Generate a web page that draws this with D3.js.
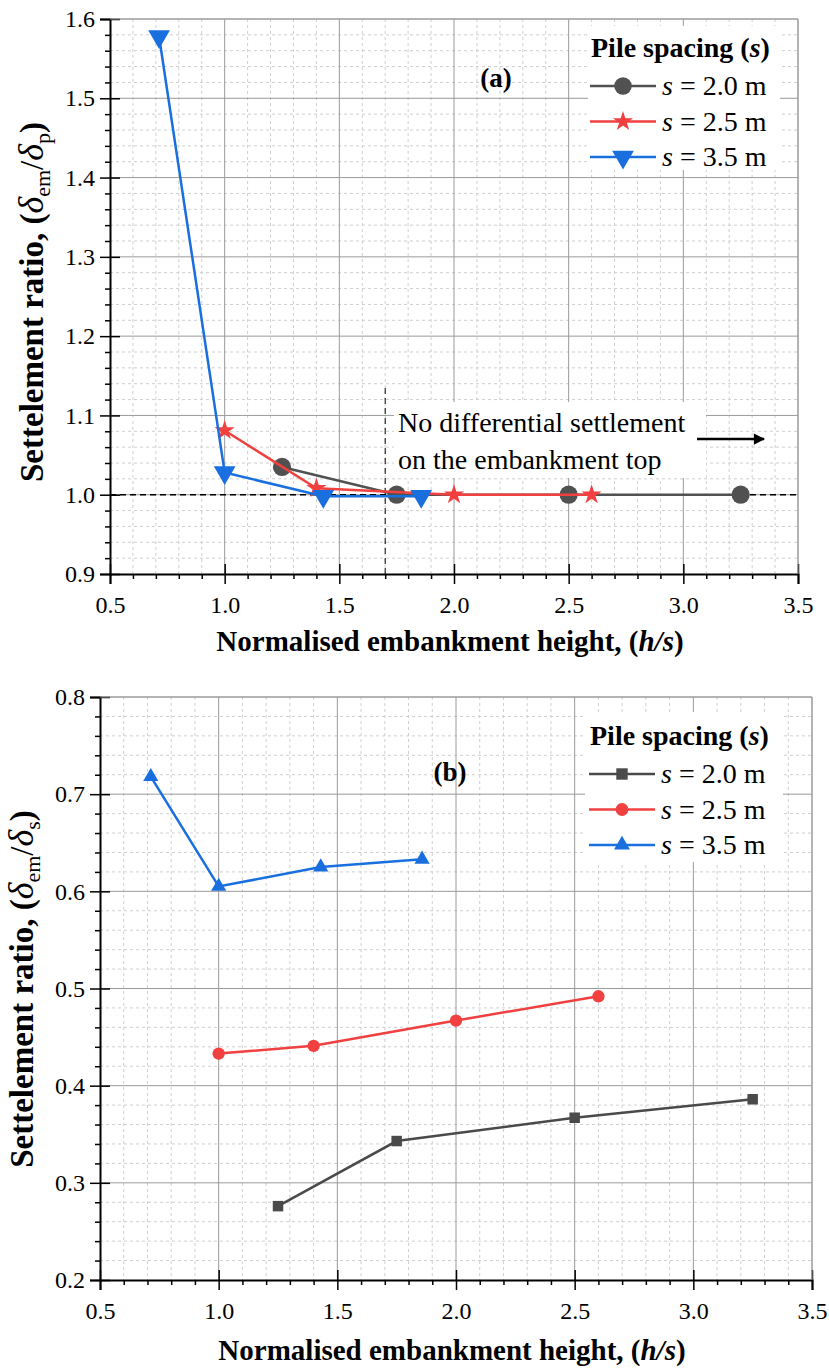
<!DOCTYPE html>
<html>
<head>
<meta charset="utf-8">
<script src="https://cdn.jsdelivr.net/npm/d3@7"></script>
<style>
  body { margin: 0; background: #fff; }
  svg { display: block; }
  svg text { font-family: "Liberation Serif", "Times New Roman", serif; }
</style>
</head>
<body>
<svg id="chart" width="829" height="1369"></svg>
<script>
// ---- data ----
var xS20 = [1.25, 1.75, 2.5, 3.25];
var xS25 = [1.0, 1.4, 2.0, 2.6];
var xS35 = [0.714, 1.0, 1.43, 1.857];

// (a) settlement ratio em/pile
var pileS20 = [1.035, 1.0, 1.0, 1.0];
var pileS25 = [1.081, 1.008, 1.0, 1.0];
var pileS35 = [1.578, 1.028, 0.998, 0.998];

// (b) settlement ratio em/soil
var soilS20 = [0.276, 0.343, 0.367, 0.386];
var soilS25 = [0.433, 0.441, 0.467, 0.492];
var soilS35 = [0.718, 0.605, 0.625, 0.633];

var spacings = ["2.0", "2.5", "3.5"];
var xTicks = [0.5, 1.0, 1.5, 2.0, 2.5, 3.0, 3.5];
var yTicksA = [0.9, 1.0, 1.1, 1.2, 1.3, 1.4, 1.5, 1.6];
var yTicksB = [0.2, 0.3, 0.4, 0.5, 0.6, 0.7, 0.8];

var colGray = "#515151", colRed = "#f14040", colBlue = "#1a6fdf";
var serif = "'Liberation Serif', 'Times New Roman', serif";

var svg = d3.select("#chart");

function range(a, b, step) {
  var out = [];
  var n = Math.round((b - a) / step);
  for (var i = 0; i <= n; i++) out.push(+(a + i * step).toFixed(4));
  return out;
}

function drawPanel(p) {
  var x = p.x, y = p.y;
  var L = x.range()[0], R = x.range()[1], B = y.range()[0], T = y.range()[1];
  var g = svg.append("g").attr("font-family", serif);

  // minor grid (dashed)
  var xMinor = range(0.5, 3.5, 0.1).filter(function(v){ return xTicks.indexOf(v) < 0; });
  var yMinor = range(y.domain()[0], y.domain()[1], 0.02).filter(function(v){
    return Math.abs(Math.round(v * 10) / 10 - v) > 1e-6;
  });
  g.selectAll(".gxm").data(xMinor).enter().append("line")
    .attr("x1", x).attr("x2", x).attr("y1", T).attr("y2", B)
    .attr("stroke", "#cfcfcf").attr("stroke-width", 1).attr("stroke-dasharray", "3,3");
  g.selectAll(".gym").data(yMinor).enter().append("line")
    .attr("y1", y).attr("y2", y).attr("x1", L).attr("x2", R)
    .attr("stroke", "#cfcfcf").attr("stroke-width", 1).attr("stroke-dasharray", "3,3");

  // major grid
  g.selectAll(".gx").data(xTicks.slice(1)).enter().append("line")
    .attr("x1", x).attr("x2", x).attr("y1", T).attr("y2", B)
    .attr("stroke", "#9a9a9a").attr("stroke-width", 1);
  g.selectAll(".gy").data(p.yTicks.slice(1)).enter().append("line")
    .attr("y1", y).attr("y2", y).attr("x1", L).attr("x2", R)
    .attr("stroke", "#9a9a9a").attr("stroke-width", 1);

  // axes - minor ticks
  g.append("g").attr("transform", "translate(0," + B + ")")
    .call(d3.axisBottom(x).tickValues(xMinor).tickSize(5).tickFormat(""))
    .call(function(s){ s.select(".domain").remove(); s.selectAll("line").attr("stroke-width", 1.5); });
  g.append("g").attr("transform", "translate(" + L + ",0)")
    .call(d3.axisLeft(y).tickValues(yMinor).tickSize(5).tickFormat(""))
    .call(function(s){ s.select(".domain").remove(); s.selectAll("line").attr("stroke-width", 1.5); });

  // axes - major ticks (crossing the axis)
  var xa = g.append("g").attr("transform", "translate(0," + B + ")")
    .call(d3.axisBottom(x).tickValues(xTicks).tickSize(10).tickPadding(12).tickFormat(d3.format(".1f")))
    .attr("font-family", serif).attr("font-size", 24);
  xa.select(".domain").attr("stroke-width", 2);
  xa.selectAll(".tick line").attr("y1", -10).attr("stroke-width", 1.5);
  xa.selectAll("text").attr("fill", "#000");

  var ya = g.append("g").attr("transform", "translate(" + L + ",0)")
    .call(d3.axisLeft(y).tickValues(p.yTicks).tickSize(10).tickPadding(5).tickFormat(d3.format(".1f")))
    .attr("font-family", serif).attr("font-size", 24);
  ya.select(".domain").attr("stroke-width", 2);
  ya.selectAll(".tick line").attr("x1", 10).attr("stroke-width", 1.5);
  ya.selectAll("text").attr("fill", "#000");

  // top / right frame
  g.append("line").attr("x1", L).attr("x2", R).attr("y1", T).attr("y2", T).attr("stroke", "#9a9a9a");
  g.append("line").attr("x1", R).attr("x2", R).attr("y1", T).attr("y2", B).attr("stroke", "#9a9a9a");

  // axis titles
  var xt = g.append("text").attr("x", (L + R) / 2 - 4).attr("y", B + p.xTitleDy)
    .attr("text-anchor", "middle").attr("font-size", 29).attr("font-weight", "bold");
  xt.append("tspan").text("Normalised embankment height, (");
  xt.append("tspan").attr("font-style", "italic").text("h/s");
  xt.append("tspan").text(")");

  var yt = g.append("text")
    .attr("transform", "translate(" + p.yTitleX + "," + p.yTitleY + ") rotate(-90)")
    .attr("text-anchor", "middle").attr("font-size", 33).attr("font-weight", "bold");
  yt.append("tspan").text("Settelement ratio, (");
  yt.append("tspan").attr("font-style", "italic").attr("font-weight", "normal").attr("font-size", 36).text("δ");
  yt.append("tspan").attr("font-weight", "normal").attr("font-size", 22).attr("dy", 7).text("em");
  yt.append("tspan").attr("font-weight", "normal").attr("dy", -7).text("/");
  yt.append("tspan").attr("font-style", "italic").attr("font-weight", "normal").attr("font-size", 36).text("δ");
  yt.append("tspan").attr("font-weight", "normal").attr("font-size", 22).attr("dy", 7).text(p.subscript);
  yt.append("tspan").attr("dy", -7).text(")");

  return g;
}

function drawSeries(g, x, y, xs, ys, color, symbol, size, rotate, lw) {
  var pts = xs.map(function(v, i){ return [v, ys[i]]; });
  g.append("path").datum(pts)
    .attr("fill", "none").attr("stroke", color).attr("stroke-width", lw)
    .attr("d", d3.line().x(function(d){ return x(d[0]); }).y(function(d){ return y(d[1]); }));
  g.selectAll(null).data(pts).enter().append("path")
    .attr("d", d3.symbol().type(symbol).size(size))
    .attr("transform", function(d){ return "translate(" + x(d[0]) + "," + y(d[1]) + ") rotate(" + rotate + ")"; })
    .attr("fill", color);
}

function drawLegend(g, lx, ly, box, items) {
  g.append("rect").attr("x", box[0]).attr("y", box[1]).attr("width", box[2]).attr("height", box[3]).attr("fill", "#fff");
  var t = g.append("text").attr("x", lx + 1).attr("y", ly).attr("font-size", 28).attr("font-weight", "bold");
  t.append("tspan").text("Pile spacing (");
  t.append("tspan").attr("font-style", "italic").text("s");
  t.append("tspan").text(")");
  items.forEach(function(it, i) {
    var cy = ly + 29 + i * 35.5;
    g.append("line").attr("x1", lx).attr("x2", lx + 66).attr("y1", cy).attr("y2", cy)
      .attr("stroke", it.color).attr("stroke-width", 2.5);
    g.append("path").attr("d", d3.symbol().type(it.symbol).size(it.size))
      .attr("transform", "translate(" + (lx + 33) + "," + cy + ") rotate(" + it.rotate + ")")
      .attr("fill", it.color);
    var tx = g.append("text").attr("x", lx + 72).attr("y", cy + 9).attr("font-size", 28);
    tx.append("tspan").attr("font-style", "italic").text("s");
    tx.append("tspan").text(" = " + spacings[i] + " m");
  });
}

// ---------- panel (a) ----------
var xA = d3.scaleLinear().domain([0.5, 3.5]).range([110, 798]);
var yA = d3.scaleLinear().domain([0.9, 1.6]).range([574, 19]);
var gA = drawPanel({ x: xA, y: yA, yTicks: yTicksA, xTitleDy: 77, yTitleX: 43, yTitleY: 302, subscript: "p" });

// reference lines
gA.append("line").attr("x1", xA(0.5)).attr("x2", xA(3.5)).attr("y1", yA(1.0)).attr("y2", yA(1.0))
  .attr("stroke", "#000").attr("stroke-width", 1.5).attr("stroke-dasharray", "6,4");
gA.append("line").attr("x1", xA(1.7)).attr("x2", xA(1.7)).attr("y1", 388).attr("y2", yA(0.9))
  .attr("stroke", "#000").attr("stroke-width", 1).attr("stroke-dasharray", "6,4");

// annotation
gA.append("rect").attr("x", 394).attr("y", 402).attr("width", 312).attr("height", 76).attr("fill", "#fff");
gA.append("text").attr("x", 398).attr("y", 432).attr("font-size", 28).text("No differential settlement");
gA.append("text").attr("x", 398).attr("y", 469).attr("font-size", 28).text("on the embankment top");
gA.append("defs").append("marker").attr("id", "arrowhead")
  .attr("viewBox", "0 0 10 10").attr("refX", 9).attr("refY", 5)
  .attr("markerWidth", 5.5).attr("markerHeight", 4.5).attr("orient", "auto")
  .append("path").attr("d", "M0,0 L10,5 L0,10 Z").attr("fill", "#000");
gA.append("line").attr("x1", 697).attr("x2", 764).attr("y1", 439).attr("y2", 439)
  .attr("stroke", "#000").attr("stroke-width", 2.5).attr("marker-end", "url(#arrowhead)");

gA.append("text").attr("x", 496).attr("y", 87).attr("text-anchor", "middle")
  .attr("font-size", 27).attr("font-weight", "bold").text("(a)");

drawSeries(gA, xA, yA, xS20, pileS20, colGray, d3.symbolCircle, 260, 0, 2.5);
drawSeries(gA, xA, yA, xS25, pileS25, colRed, d3.symbolStar, 125, 0, 2.5);
drawSeries(gA, xA, yA, xS35, pileS35, colBlue, d3.symbolTriangle, 205, 180, 2.5);

drawLegend(gA, 590, 57, [588, 26, 192, 144], [
  { color: colGray, symbol: d3.symbolCircle, size: 240, rotate: 0 },
  { color: colRed, symbol: d3.symbolStar, size: 125, rotate: 0 },
  { color: colBlue, symbol: d3.symbolTriangle, size: 205, rotate: 180 }
]);

// ---------- panel (b) ----------
var xB = d3.scaleLinear().domain([0.5, 3.5]).range([100, 812]);
var yB = d3.scaleLinear().domain([0.2, 0.8]).range([1280, 697]);
var gB = drawPanel({ x: xB, y: yB, yTicks: yTicksB, xTitleDy: 80, yTitleX: 33, yTitleY: 989, subscript: "s" });

gB.append("text").attr("x", 450).attr("y", 781).attr("text-anchor", "middle")
  .attr("font-size", 27).attr("font-weight", "bold").text("(b)");

drawSeries(gB, xB, yB, xS20, soilS20, "#4a4a4a", d3.symbolSquare, 110, 0, 2.5);
drawSeries(gB, xB, yB, xS25, soilS25, colRed, d3.symbolCircle, 120, 0, 2.5);
drawSeries(gB, xB, yB, xS35, soilS35, colBlue, d3.symbolTriangle, 100, 0, 2.5);

drawLegend(gB, 589, 745, [585, 712, 198, 150], [
  { color: "#4a4a4a", symbol: d3.symbolSquare, size: 130, rotate: 0 },
  { color: colRed, symbol: d3.symbolCircle, size: 130, rotate: 0 },
  { color: colBlue, symbol: d3.symbolTriangle, size: 110, rotate: 0 }
]);
</script>
</body>
</html>
